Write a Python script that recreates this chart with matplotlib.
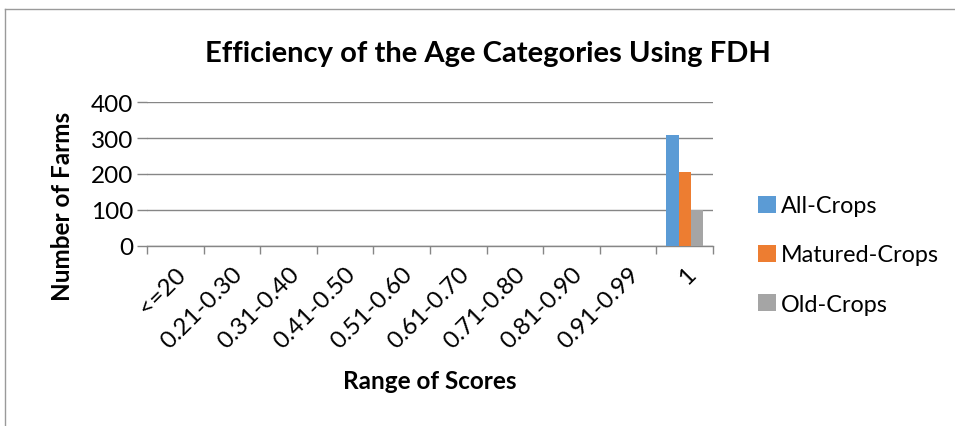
import matplotlib
matplotlib.use('Agg')
import matplotlib.pyplot as plt
from matplotlib.lines import Line2D
import numpy as np

plt.rcParams['font.family'] = ['Lato', 'DejaVu Sans']

categories = ['<=20', '0.21-0.30', '0.31-0.40', '0.41-0.50', '0.51-0.60',
              '0.61-0.70', '0.71-0.80', '0.81-0.90', '0.91-0.99', '1']
all_crops = [0, 0, 0, 0, 0, 0, 0, 0, 0, 308]
matured_crops = [0, 0, 0, 0, 0, 0, 0, 0, 0, 206]
old_crops = [0, 0, 0, 0, 0, 0, 0, 0, 0, 101]
series_names = ['All-Crops', 'Matured-Crops', 'Old-Crops']
colors = ['#5B9BD5', '#ED7D31', '#A5A5A5']

W, H = 955, 427
fs = 17.5
fig = plt.figure(figsize=(W / 100, H / 100), dpi=100)
ax = fig.add_axes([147 / W, 1 - 247 / H, (713 - 147) / W, (247 - 103) / H])

x = np.arange(len(categories))
bw = 0.217
for i, (vals, name, c) in enumerate(zip([all_crops, matured_crops, old_crops], series_names, colors)):
    ax.bar(x + (i - 1) * bw, vals, width=bw, color=c, label=name, zorder=3)

ax.set_xlim(-0.5, len(categories) - 0.5)
ax.set_ylim(0, 400)
ax.set_yticks([0, 100, 200, 300, 400])
ax.grid(axis='y', color='#868686', linewidth=1, zorder=0)
for s in ['top', 'right', 'left']:
    ax.spines[s].set_visible(False)
ax.spines['bottom'].set_color('#868686')
ax.spines['bottom'].set_linewidth(1)

# tick marks at category boundaries, labels at centres
ax.set_xticks(np.arange(-0.5, len(categories)), minor=False)
ax.set_xticklabels([])
ax.set_xticks(x, minor=True)
ax.set_xticklabels(categories, minor=True, rotation=45, ha='right', va='top',
                   rotation_mode='anchor', fontsize=fs)
ax.tick_params(axis='x', which='major', length=6, color='#868686', width=1)
ax.tick_params(axis='x', which='minor', length=0, pad=12)
ax.tick_params(axis='y', length=7, color='#868686', width=1, labelsize=fs, pad=3)

fig.text(62 / W, 1 - 206 / H, 'Number of Farms', rotation=90, ha='center', va='center',
         fontsize=fs, fontweight='bold')
ax.set_xlabel('Range of Scores', fontsize=fs, fontweight='bold', labelpad=12)
fig.text(488 / W, 1 - 54 / H, 'Efficiency of the Age Categories Using FDH',
         ha='center', va='center', fontsize=21, fontweight='bold')

leg = ax.legend(loc='center left', bbox_to_anchor=(737 / W, 1 - 256 / H),
                bbox_transform=fig.transFigure, frameon=False, fontsize=16.8,
                handlelength=0.75, handleheight=0.75, labelspacing=1.2, handletextpad=0.25)

# outer chart border (partially cropped)
fig.add_artist(Line2D([5 / W, 1], [1 - 10 / H, 1 - 10 / H], color='#9a9a9a', linewidth=1))
fig.add_artist(Line2D([5 / W, 5 / W], [0, 1 - 10 / H], color='#9a9a9a', linewidth=1))

fig.savefig('out.png', dpi=100, facecolor='white')
